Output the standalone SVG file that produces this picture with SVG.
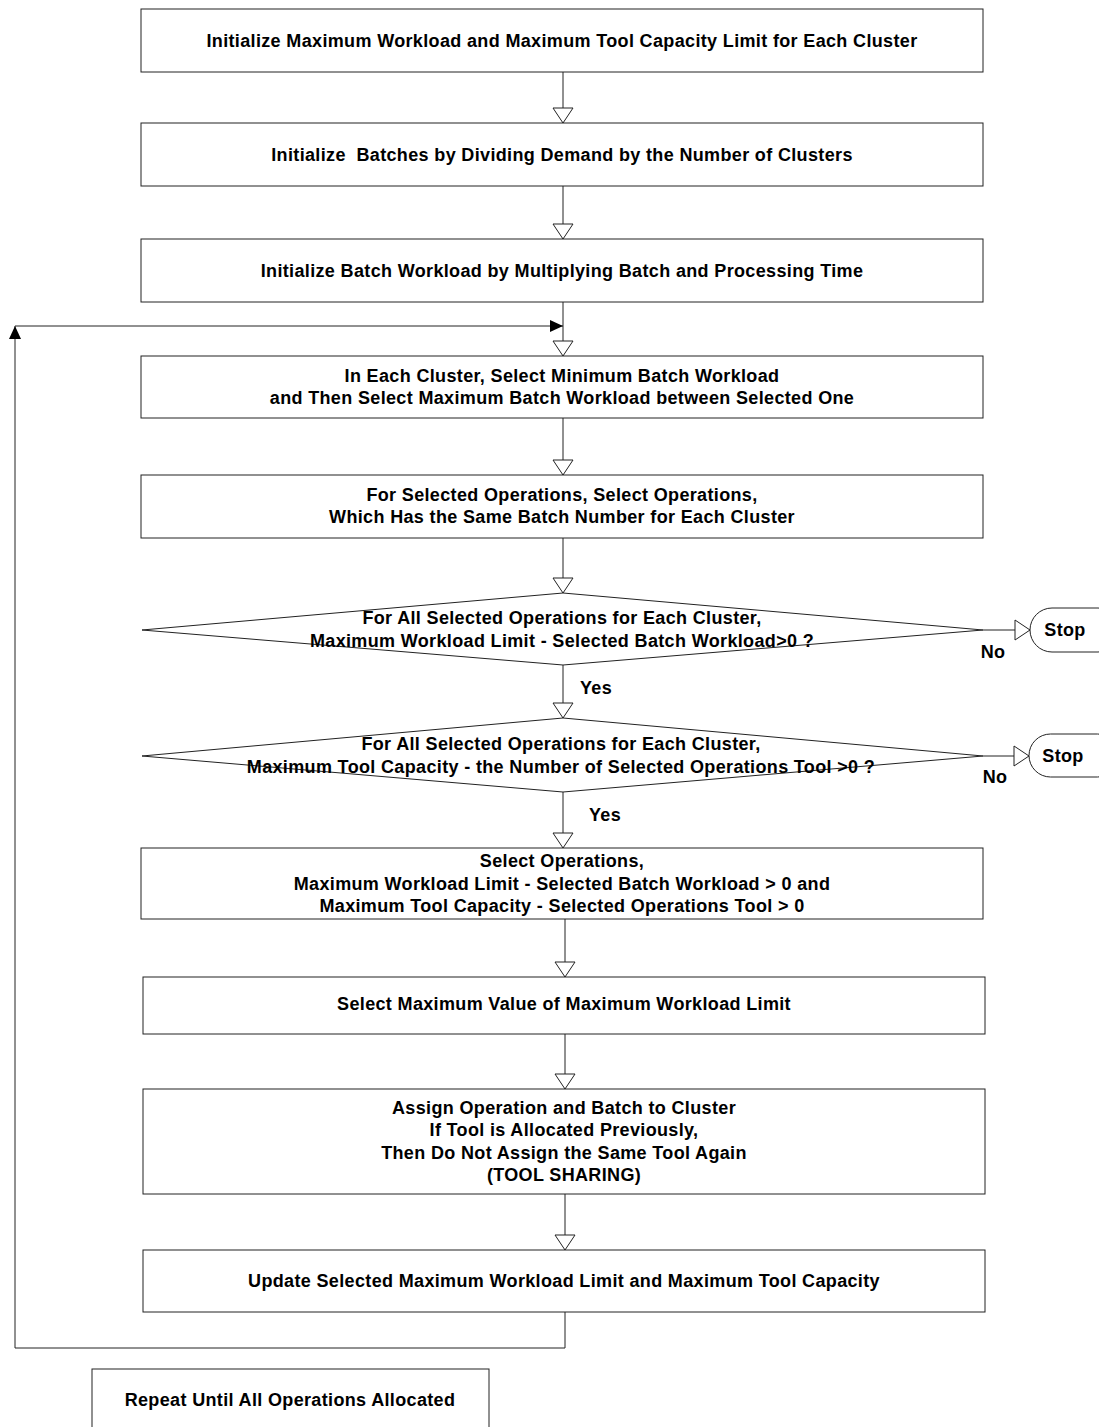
<svg xmlns="http://www.w3.org/2000/svg" width="1099" height="1427" viewBox="0 0 1099 1427">
<defs>
<style>
.box{fill:#fff;stroke:#222;stroke-width:1}
.ln{fill:none;stroke:#222;stroke-width:1}
text{font-family:"Liberation Sans",Arial,sans-serif;font-size:18px;font-weight:bold;letter-spacing:0.35px;fill:#000;text-anchor:middle}
</style>
<marker id="hollow" markerUnits="userSpaceOnUse" markerWidth="18" markerHeight="22" refX="16" refY="11" orient="auto" viewBox="0 0 18 22">
<path d="M1,1 L16,11 L1,21 Z" fill="#fff" stroke="#222" stroke-width="1"/>
</marker>
<marker id="solid" markerUnits="userSpaceOnUse" markerWidth="14" markerHeight="12" refX="13" refY="6" orient="auto" viewBox="0 0 14 12">
<path d="M0,0 L13,6 L0,12 Z" fill="#000"/>
</marker>
</defs>
<g id="connectors">
<line class="ln" x1="563" y1="72" x2="563" y2="123" marker-end="url(#hollow)"/>
<line class="ln" x1="563" y1="186" x2="563" y2="239" marker-end="url(#hollow)"/>
<line class="ln" x1="563" y1="302" x2="563" y2="356" marker-end="url(#hollow)"/>
<line class="ln" x1="563" y1="418" x2="563" y2="475" marker-end="url(#hollow)"/>
<line class="ln" x1="563" y1="538" x2="563" y2="593" marker-end="url(#hollow)"/>
<line class="ln" x1="563" y1="665" x2="563" y2="718" marker-end="url(#hollow)"/>
<line class="ln" x1="563" y1="792" x2="563" y2="848" marker-end="url(#hollow)"/>
<line class="ln" x1="565" y1="919" x2="565" y2="977" marker-end="url(#hollow)"/>
<line class="ln" x1="565" y1="1034" x2="565" y2="1089" marker-end="url(#hollow)"/>
<line class="ln" x1="565" y1="1194" x2="565" y2="1250" marker-end="url(#hollow)"/>
<line class="ln" x1="983" y1="630" x2="1030" y2="630" marker-end="url(#hollow)"/>
<line class="ln" x1="983" y1="756" x2="1029" y2="756" marker-end="url(#hollow)"/>
<polyline class="ln" points="565,1312 565,1348 15,1348 15,326" marker-end="url(#solid)"/>
<line class="ln" x1="15" y1="326" x2="563" y2="326" marker-end="url(#solid)"/>
<text x="596" y="694">Yes</text>
<text x="993" y="658">No</text>
<text x="605" y="821">Yes</text>
<text x="995" y="783">No</text>
</g>
<g id="n1"><rect class="box" x="141" y="9" width="842" height="63"/><text x="562" y="47">Initialize Maximum Workload and Maximum Tool Capacity Limit for Each Cluster</text></g>
<g id="n2"><rect class="box" x="141" y="123" width="842" height="63"/><text x="562" y="161" xml:space="preserve">Initialize  Batches by Dividing Demand by the Number of Clusters</text></g>
<g id="n3"><rect class="box" x="141" y="239" width="842" height="63"/><text x="562" y="277">Initialize Batch Workload by Multiplying Batch and Processing Time</text></g>
<g id="n4"><rect class="box" x="141" y="356" width="842" height="62"/><text x="562" y="382">In Each Cluster, Select Minimum Batch Workload</text><text x="562" y="404">and Then Select Maximum Batch Workload between Selected One</text></g>
<g id="n5"><rect class="box" x="141" y="475" width="842" height="63"/><text x="562" y="501">For Selected Operations, Select Operations,</text><text x="562" y="523">Which Has the Same Batch Number for Each Cluster</text></g>
<g id="d1"><polygon class="box" points="563,593 983,630 563,665 142,630"/><text x="562" y="624">For All Selected Operations for Each Cluster,</text><text x="562" y="647">Maximum Workload Limit - Selected Batch Workload&gt;0 ?</text></g>
<g id="stop1"><rect class="box" x="1030" y="608" width="90" height="44" rx="22" ry="22"/><text x="1065" y="636">Stop</text></g>
<g id="d2"><polygon class="box" points="563,718 983,756 563,792 142,756"/><text x="561" y="750">For All Selected Operations for Each Cluster,</text><text x="561" y="773">Maximum Tool Capacity - the Number of Selected Operations Tool &gt;0 ?</text></g>
<g id="stop2"><rect class="box" x="1029" y="734" width="90" height="43" rx="21.5" ry="21.5"/><text x="1063" y="762">Stop</text></g>
<g id="n6"><rect class="box" x="141" y="848" width="842" height="71"/><text x="562" y="867">Select Operations,</text><text x="562" y="890">Maximum Workload Limit - Selected Batch Workload &gt; 0 and</text><text x="562" y="912">Maximum Tool Capacity - Selected Operations Tool &gt; 0</text></g>
<g id="n7"><rect class="box" x="143" y="977" width="842" height="57"/><text x="564" y="1010">Select Maximum Value of Maximum Workload Limit</text></g>
<g id="n8"><rect class="box" x="143" y="1089" width="842" height="105"/><text x="564" y="1114">Assign Operation and Batch to Cluster</text><text x="564" y="1136">If Tool is Allocated Previously,</text><text x="564" y="1159">Then Do Not Assign the Same Tool Again</text><text x="564" y="1181">(TOOL SHARING)</text></g>
<g id="n9"><rect class="box" x="143" y="1250" width="842" height="62"/><text x="564" y="1287">Update Selected Maximum Workload Limit and Maximum Tool Capacity</text></g>
<g id="n10"><rect class="box" x="92" y="1369" width="397" height="70"/><text x="290" y="1406">Repeat Until All Operations Allocated</text></g>
</svg>
